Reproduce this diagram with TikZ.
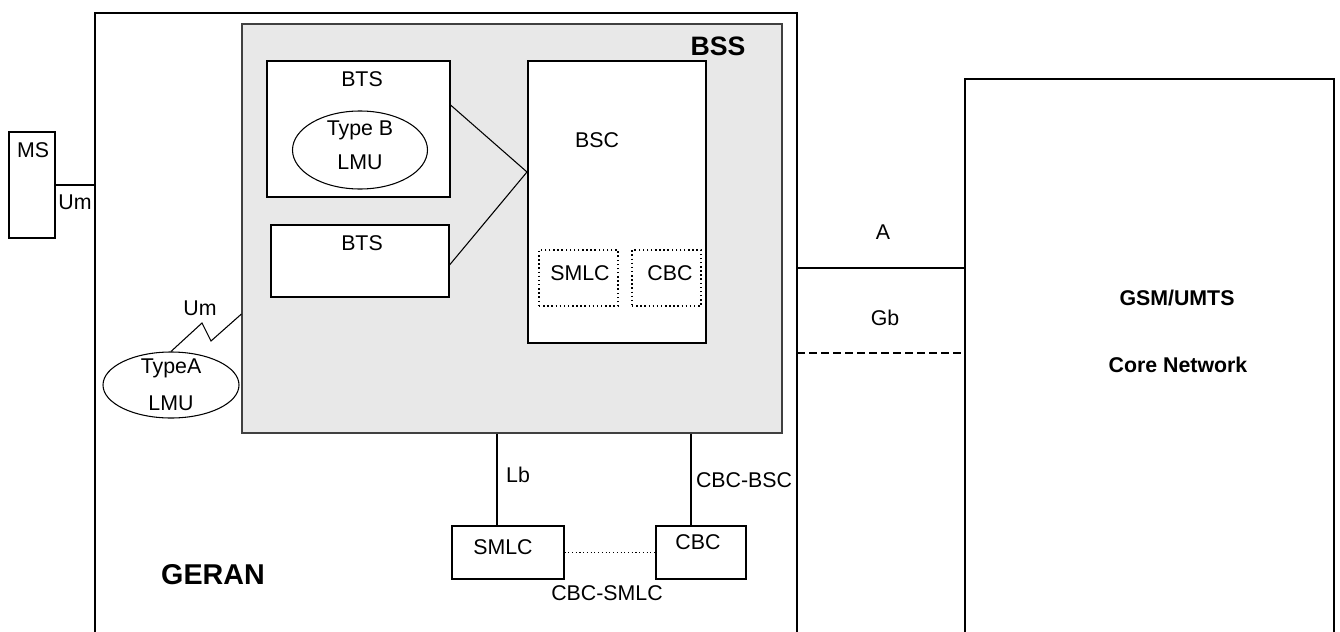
\documentclass[tikz,border=0pt]{standalone}
\usepackage{fontspec}
\setmainfont{Liberation Sans}
\usetikzlibrary{positioning}
\usetikzlibrary{shapes.geometric}
\newdimen\px \px=0.75pt
\tikzset{
	% boxes
	box/.style={draw, line width=0.8pt, fill=white, inner sep=0pt},
	dotbox/.style={draw, dotted, line width=1.1pt, inner sep=0pt},
	lmu/.style={draw, ellipse, line width=0.8pt, fill=white, inner sep=0pt},
	% text
	txt/.style={font=\fontsize{16}{18}\selectfont, inner sep=0pt},
	boldtxt/.style={font=\fontsize{16}{18}\bfseries\selectfont, inner sep=0pt},
	bigtxt/.style={font=\fontsize{21.5}{24}\bfseries\selectfont, inner sep=0pt},
	% links
	link/.style={line width=0.8pt},
}

\begin{document}
\begin{tikzpicture}[x=0.75pt, y=-0.75pt]
	\useasboundingbox (0,0) rectangle (1340,632);
	
	% GERAN and core network (open at the bottom)
	\draw[line width=1.6pt] (95,640) -- (95,13) -- (797,13) -- (797,640);
	\draw[line width=1.6pt] (965,640) -- (965,79) -- (1334,79) -- (1334,640);
	\coordinate (geranL) at (95,185);
	\coordinate (geranR) at (797,268);
	\coordinate (coreL) at (965,268);
	
	% BSS
	\node[draw=black!75, fill=black!9, line width=0.8pt, minimum width=540\px, minimum height=409\px] (bss) at (512,228.5) {};
	\node[bigtxt, font=\fontsize{20}{24}\bfseries\selectfont] (bsslbl) at (718,46) {BSS};
	
	\node[box, minimum width=183\px, minimum height=136\px] (bts1) at (358.5,129) {};
	\node[lmu, minimum width=135\px, minimum height=78\px] (lmuB) at (360,150) {};
	\node[box, minimum width=178\px, minimum height=72\px] (bts2) at (360,261) {};
	\node[box, minimum width=178\px, minimum height=282\px] (bsc) at (617,202) {};
	\node[dotbox, minimum width=79\px, minimum height=56\px] (smlcin) at (578.5,278) {};
	\node[dotbox, minimum width=69\px, minimum height=56\px] (cbcin) at (666.5,278) {};
	
	\node[txt] at (362,79) {BTS};
	\node[txt] at (360,130) {Type B};
	\node[txt] at (360,162) {LMU};
	\node[txt] at (362,243) {BTS};
	\node[txt] at (597,140) {BSC};
	\node[txt] at (580,273) {SMLC};
	\node[txt] at (670,273) {CBC};
	
	\coordinate (bsc in) at (527,172);
	\draw[link] (bts1.east |- 0,105) -- (bsc in);
	\draw[link] (bts2.east |- 0,265) -- (bsc in);
	
	% MS
	\node[box, minimum width=46\px, minimum height=106\px] (ms) at (32,185) {};
	\node[txt] at (33,150) {MS};
	\draw[link] (ms.east) -- (geranL);
	\node[txt] at (75,202) {Um};
	
	% type A LMU
	\node[lmu, minimum width=136\px, minimum height=66\px] (lmuA) at (171,385) {};
	\node[txt] at (171,368) {TypeA};
	\node[txt] at (171,403) {LMU};
	\draw[link] (lmuA.north) -- (202,323) -- (211,341) -- (bss.west |- 0,314);
	\node[txt] at (200,308) {Um};
	
	% SMLC and CBC
	\node[box, minimum width=112\px, minimum height=53\px] (smlc) at (508,552.5) {};
	\node[box, minimum width=90\px, minimum height=53\px] (cbc) at (701,552.5) {};
	\node[txt] at (503,547) {SMLC};
	\node[txt] at (698,542) {CBC};
	\draw[link] (bss.south -| 497,0) -- (smlc.north -| 497,0);
	\draw[link] (bss.south -| 691,0) -- (cbc.north -| 691,0);
	\draw[link, dotted, line width=1pt] (smlc.east) -- (cbc.west);
	\node[txt] at (518,475) {Lb};
	\node[txt] at (744,480) {CBC-BSC};
	\node[txt] at (607,593) {CBC-SMLC};
	
	\node[bigtxt] at (213,575) {GERAN};
	
	% A and Gb
	\draw[link] (geranR) -- (coreL);
	\draw[link, dashed, dash pattern=on 6pt off 3pt] (geranR |- 0,353) -- (coreL |- 0,353);
	\node[txt] at (883,232) {A};
	\node[txt] at (885,318) {Gb};
	
	\node[boldtxt] at (1177,298) {GSM/UMTS};
	\node[boldtxt] at (1178,365) {Core Network};
	
\end{tikzpicture}
\end{document}
